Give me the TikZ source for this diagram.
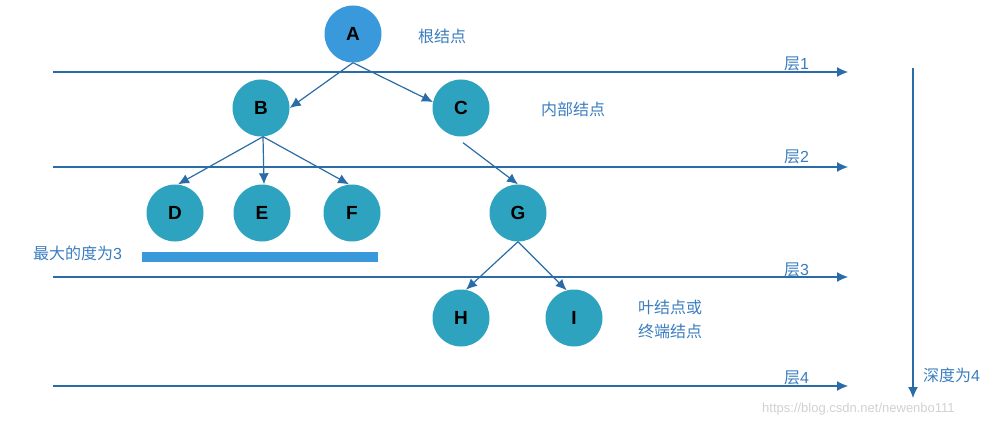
\documentclass[tikz,border=0pt]{standalone}
\usepackage{fontspec}
\setmainfont{Liberation Sans}
\newfontfamily\cjk{Noto Sans CJK SC}
\usetikzlibrary{arrows.meta}
\definecolor{nodeteal}{HTML}{2EA3BF}
\definecolor{nodeblue}{HTML}{3A99DB}
\definecolor{edgeblue}{HTML}{2A6CA8}
\definecolor{labblue}{HTML}{3A7DBF}
\tikzset{
  tnode/.style={circle,fill=nodeteal,minimum size=57pt,inner sep=0pt,font=\fontsize{19}{19}\selectfont\bfseries,text=black},
  edge/.style={draw=edgeblue,line width=1.2pt,-{Latex[length=11pt,width=10pt]}},
  lab/.style={font=\cjk\fontsize{16}{19}\selectfont,text=labblue,inner sep=0pt},
}
\begin{document}
\begin{tikzpicture}[x=1pt,y=-1pt]
\useasboundingbox (0,0) rectangle (1007,425);
% nodes
\node[tnode,fill=nodeblue] (A) at (353,34) {A};
\node[tnode] (B) at (261,108) {B};
\node[tnode] (C) at (461,108) {C};
\node[tnode] (D) at (175,213) {D};
\node[tnode] (E) at (262,213) {E};
\node[tnode] (F) at (352,213) {F};
\node[tnode] (G) at (518,213) {G};
\node[tnode] (H) at (461,318) {H};
\node[tnode] (I) at (574,318) {I};
% edges
\draw[edge] (A.south) -- (B.east);
\draw[edge] (A.south) -- (C.168);
\draw[edge] ([xshift=2pt]B.south) -- ([xshift=3pt]D.north);
\draw[edge] ([xshift=2pt]B.south) -- ([xshift=2pt]E.north);
\draw[edge] ([xshift=2pt]B.south) -- ([xshift=-3pt]F.north);
\draw[edge] ([shift={(2pt,-6pt)}]C.south) -- (G.north);
\draw[edge] (G.south) -- (H.80);
\draw[edge] (G.south) -- (I.105);
% layer lines
\coordinate (l1s) at (53,72);  \coordinate (l1e) at (848,72);
\coordinate (l2s) at (53,167); \coordinate (l2e) at (848,167);
\coordinate (l3s) at (53,277); \coordinate (l3e) at (848,277);
\coordinate (l4s) at (53,386); \coordinate (l4e) at (848,386);
\draw[edge] (l1s) -- (l1e);
\draw[edge] (l2s) -- (l2e);
\draw[edge] (l3s) -- (l3e);
\draw[edge] (l4s) -- (l4e);
\node[lab,anchor=base west] (t1) at (784,70) {层\fontspec{Liberation Sans}1};
\node[lab,anchor=base west] (t2) at (784,163) {层\fontspec{Liberation Sans}2};
\node[lab,anchor=base west] (t3) at (784,275) {层\fontspec{Liberation Sans}3};
\node[lab,anchor=base west] (t4) at (784,383) {层\fontspec{Liberation Sans}4};
% depth arrow
\coordinate (ds) at (913,68); \coordinate (de) at (913,398);
\draw[edge] (ds) -- (de);
\node[lab,anchor=west] (depth) at (923,375) {深度为\fontspec{Liberation Sans}4};
% labels
\node[lab,anchor=west] (root) at (418,36) {根结点};
\node[lab,anchor=west] (inner) at (541,109) {内部结点};
\node[lab,anchor=west] (deg) at (33,253) {最大的度为\fontspec{Liberation Sans}3};
\node[fill=nodeblue,inner sep=0pt,minimum width=236pt,minimum height=10pt,anchor=north west] (bar) at (142,252) {};
\node[lab,anchor=west] (leaf1) at (638,307) {叶结点或};
\node[lab,anchor=west] (leaf2) at (638,331) {终端结点};
\node[font=\fontsize{13}{13}\selectfont,text=black!18,anchor=west,inner sep=0pt] (wm) at (762,409) {https://blog.csdn.net/newenbo111};
\end{tikzpicture}
\end{document}
